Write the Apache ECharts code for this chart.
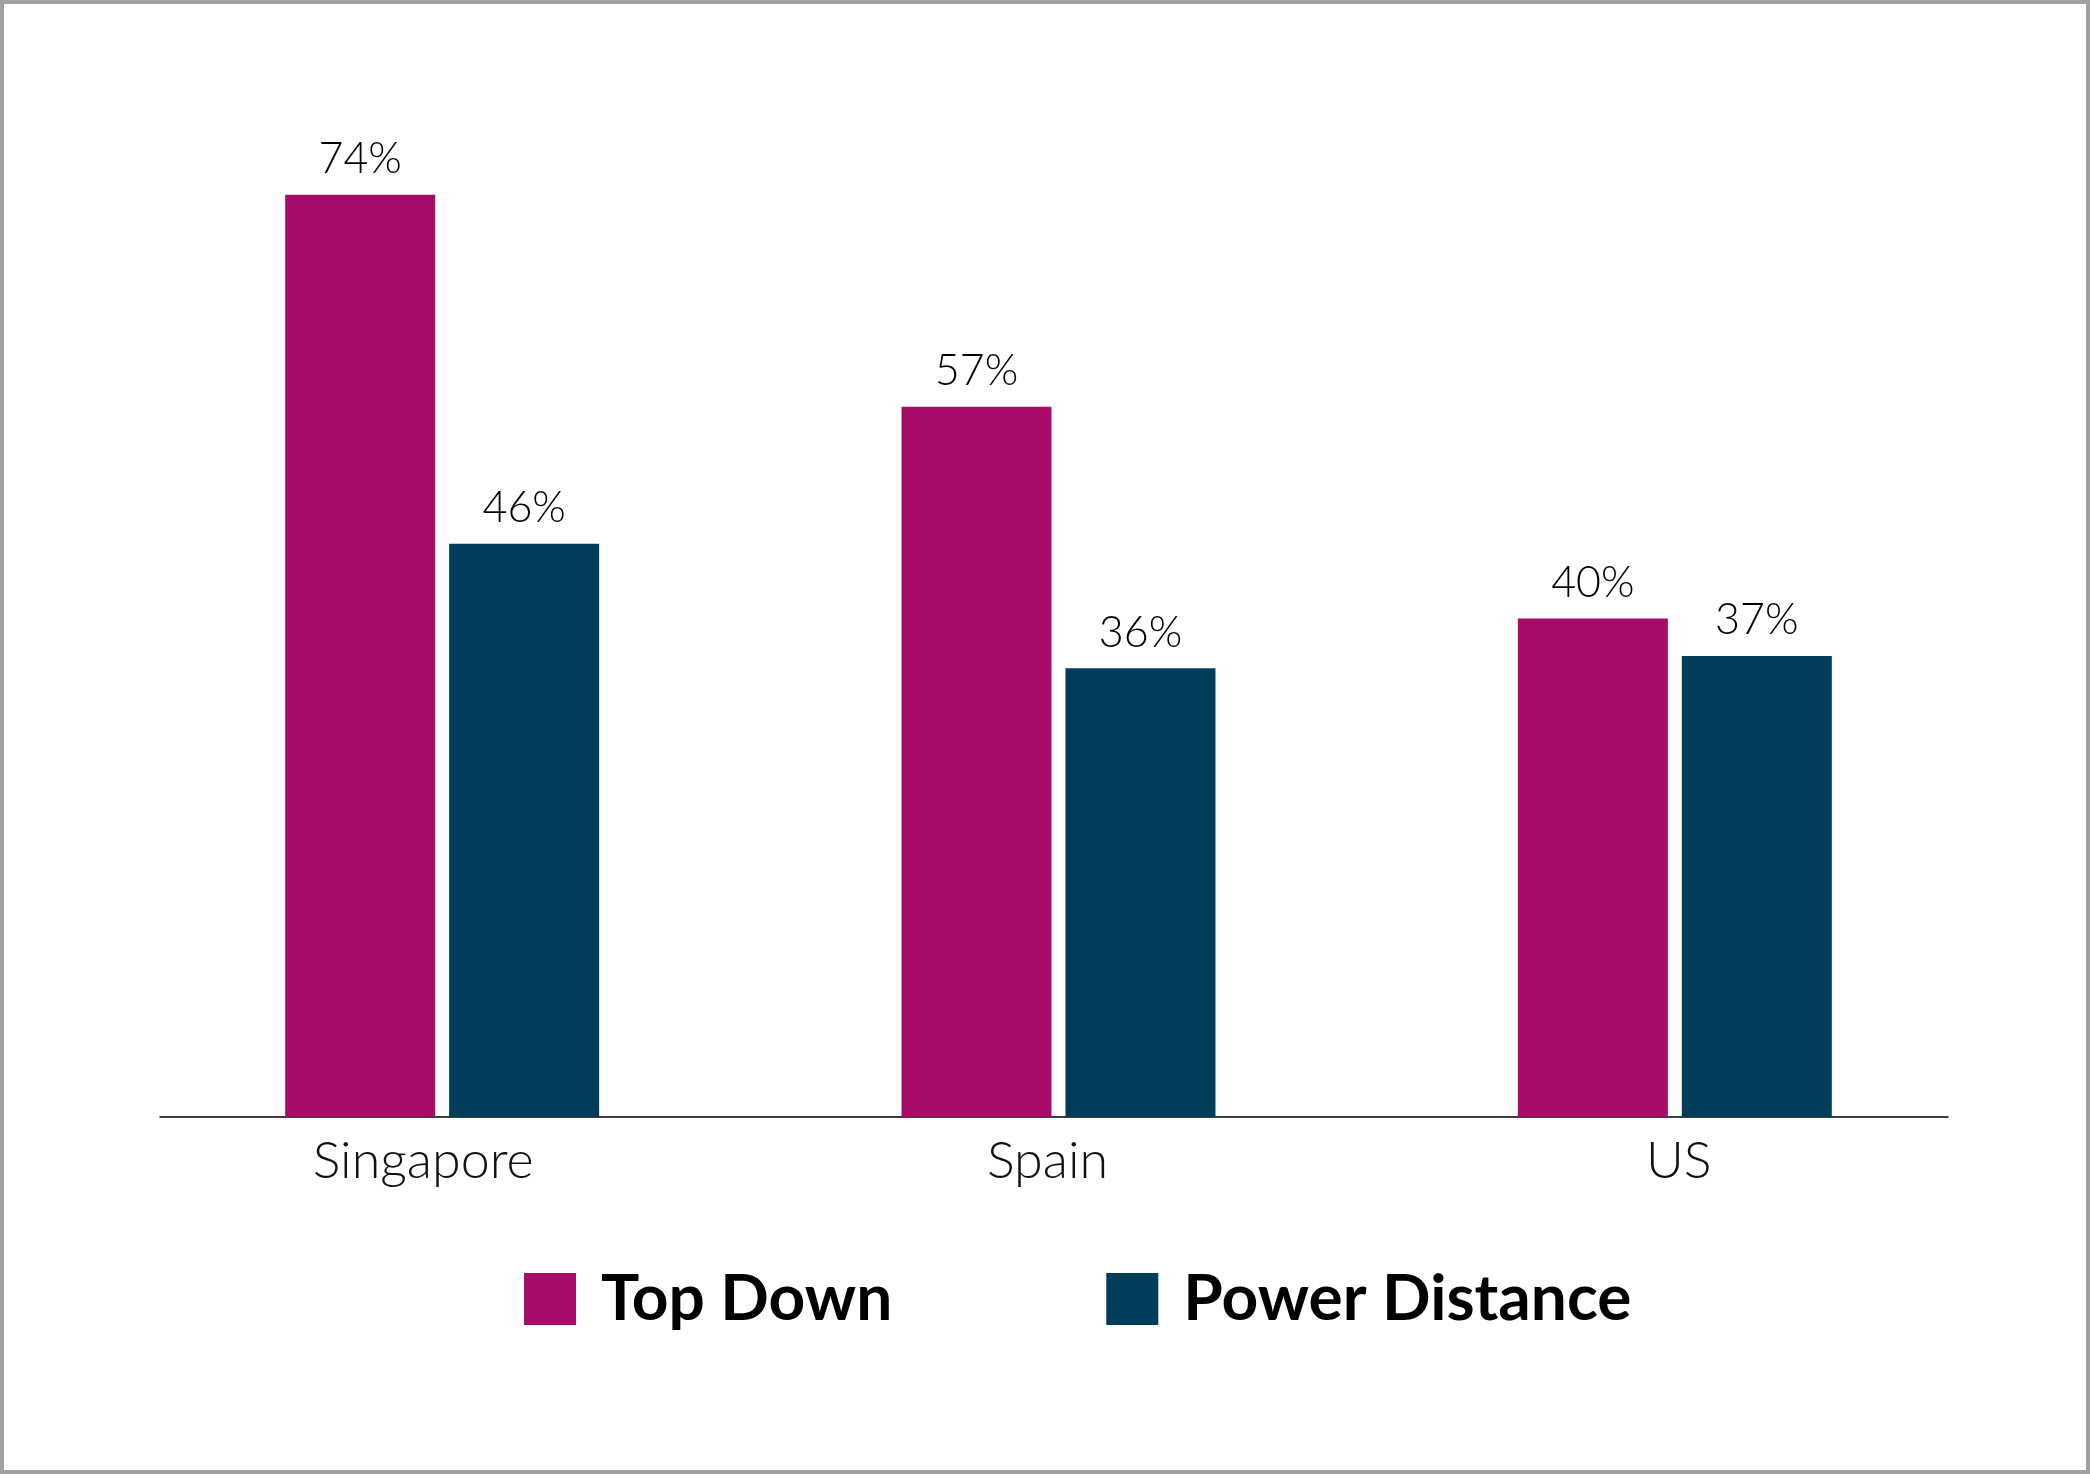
<!DOCTYPE html>
<html><head><meta charset="utf-8">
<script src="https://cdn.jsdelivr.net/npm/echarts@6/dist/echarts.min.js"></script>
<style>
html,body{margin:0;padding:0;background:#fff;}
#c{width:2090px;height:1474px;}
#frame{position:fixed;left:0;top:0;width:2090px;height:1474px;box-sizing:border-box;border:4px solid #a0a0a0;pointer-events:none;z-index:10;}
</style></head>
<body>
<div id="c"></div><div id="frame"></div>
<script>
const categories = ['Singapore', 'Spain', 'US'];
const seriesNames = ['Top Down', 'Power Distance'];
const topDown = [74, 57, 40];
const powerDistance = [46, 36, 37];
const colors = ['#A80B6A', '#013D5B'];

const chart = echarts.init(document.getElementById('c'));
const font = 'Lato, "Noto Sans", sans-serif';
const labelCfg = {
  show: true, position: 'top', distance: 14,
  formatter: p => p.value + '%',
  fontFamily: font, fontSize: 43, fontWeight: 300, color: '#000'
};
const catText = {fontFamily: font, fontSize: 52, fontWeight: 300, color: '#111'};
chart.setOption({
  animation: false,
  backgroundColor: '#fff',
  grid: [
    {left: 134, right: 107, top: 120, bottom: 357},
    {left: 160, right: 142, top: 120, bottom: 357}
  ],
  legend: {
    data: seriesNames,
    top: 1267, left: 524, padding: 0,
    icon: 'rect', itemWidth: 52, itemHeight: 52, itemGap: 214,
    textStyle: {fontFamily: font, fontSize: 64, fontWeight: 'bold', color: '#000', padding: [0, 0, 0, 20]}
  },
  xAxis: [
    {type: 'category', data: categories, gridIndex: 0,
     axisLine: {show: false}, axisTick: {show: false},
     axisLabel: {margin: 18,
       formatter: (v, i) => '{c' + i + '|' + v + '}',
       rich: {
         c0: Object.assign({padding: [0, 38, 0, 0]}, catText),
         c1: Object.assign({padding: [0, 22, 0, 0]}, catText),
         c2: Object.assign({padding: [0, 0, 0, 8]}, catText)
       }}},
    {type: 'category', data: [''], gridIndex: 1,
     axisLine: {show: true, lineStyle: {color: '#000', width: 1.5}},
     axisTick: {show: false}, axisLabel: {show: false}}
  ],
  yAxis: [
    {type: 'value', min: 0, max: 80, gridIndex: 0, show: false, splitLine: {show: false}},
    {type: 'value', min: 0, max: 80, gridIndex: 1, show: false, splitLine: {show: false}}
  ],
  series: [
    {name: seriesNames[0], type: 'bar', data: topDown, barWidth: 150, barGap: '9.3%',
     itemStyle: {color: colors[0]}, label: labelCfg},
    {name: seriesNames[1], type: 'bar', data: powerDistance, barWidth: 150, barGap: '9.3%',
     itemStyle: {color: colors[1]}, label: labelCfg}
  ]
});
</script>
</body></html>
